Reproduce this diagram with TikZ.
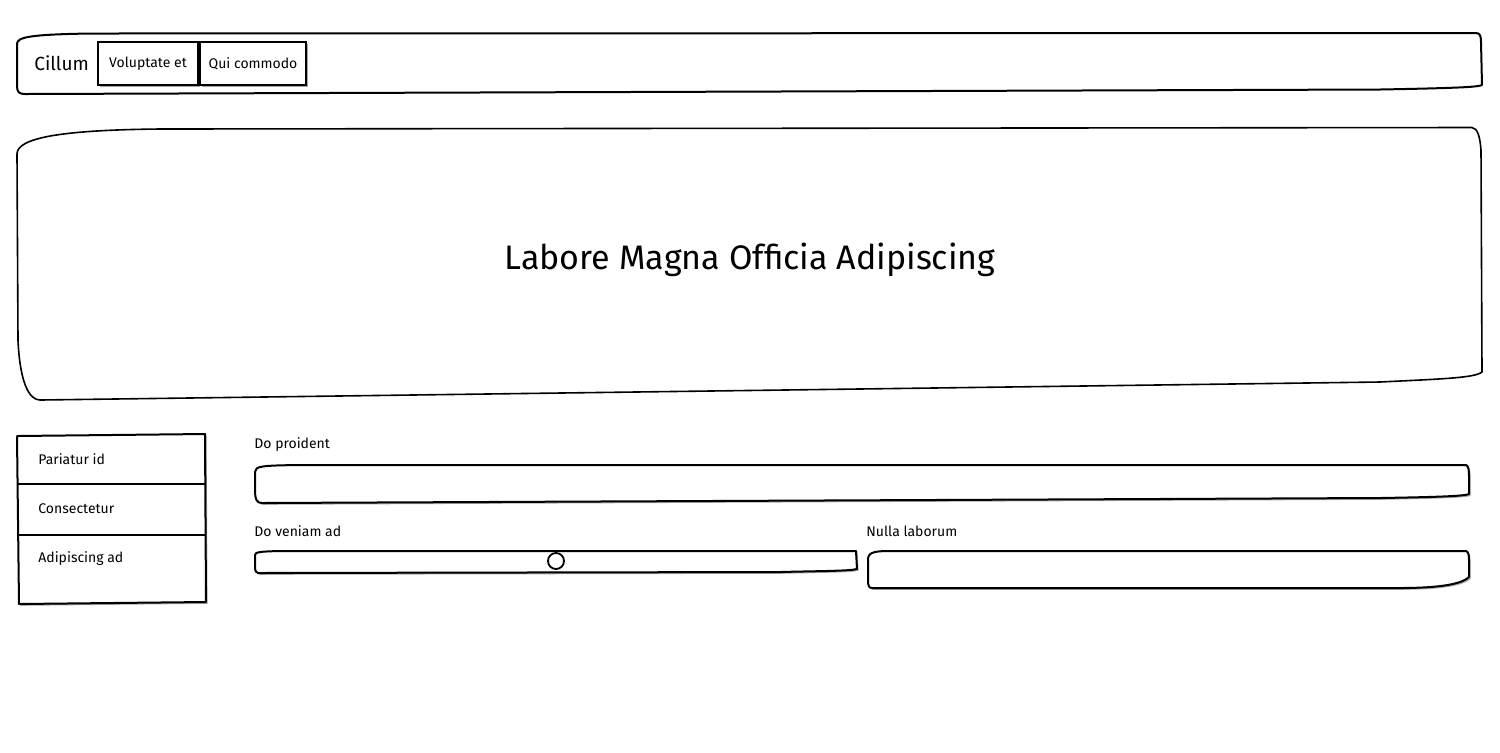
\documentclass[tikz,border=0pt]{standalone}
\usepackage{fontspec}
\setmainfont{Fira Sans}
\usetikzlibrary{shadows}
\begin{document}
\begin{tikzpicture}[x=0.5pt,y=-0.5pt,
  outline/.style={draw=black,line width=1pt,line join=round},
  heroline/.style={draw=black,line width=0.8pt,line join=round},
  shad/.style={drop shadow={shadow xshift=0.8pt,shadow yshift=-0.9pt,opacity=0.35,fill=black}},
  btn/.style={draw=black,line width=1.2pt,fill=white,shad,minimum height=21.5pt,inner sep=0pt,font=\fontsize{7}{8}\selectfont},
  lbl/.style={anchor=west,inner sep=0pt,font=\fontsize{7}{8}\selectfont},
  brand/.style={anchor=west,inner sep=0pt,font=\fontsize{9.5}{11}\selectfont},
  title/.style={inner sep=0pt,font=\fontsize{17}{20}\selectfont}]
\useasboundingbox (0,0) rectangle (1500,752);
\fill[white] (0,0) rectangle (1500,752);

% top bar
\draw[outline] (17,44) .. controls (17,37) and (30,34.5) .. (90,33.5) -- (1476,33) .. controls (1480,33) and (1481,36) .. (1481,42) -- (1482,85) .. controls (1478,87) and (1460,88) .. (1380,89.5) -- (25,94) .. controls (19,94) and (17,92) .. (17,86) -- cycle;
\node[brand] (brand) at (34,63.5) {Cillum};
\node[btn,minimum width=50pt] (b1) at (148,63.5) {Voluptate et};
\node[btn,minimum width=53pt] (b2) at (253,63.5) {Qui commodo};

% hero
\draw[heroline] (17,154) .. controls (17,138) and (60,130) .. (160,129) -- (1472,127.5) .. controls (1478,128) and (1480,138) .. (1481,150) -- (1482,372) .. controls (1475,378) and (1440,379) .. (1380,382) -- (40,400) .. controls (30,400) and (20,385) .. (18,340) -- cycle;
\node[title] (title) at (750,260) {Labore Magna Officia Adipiscing};

% sidebar
\draw[outline,fill=white,shad] (17,436) -- (205,434) -- (206,602) -- (19,604) -- cycle;
\draw[outline] (17,484) -- (206,484);
\draw[outline] (17,534.5) -- (206,534.5);
\node[lbl] (s1) at (38,459) {Pariatur id};
\node[lbl] (s2) at (38,509) {Consectetur};
\node[lbl] (s3) at (38,559) {Adipiscing ad};

% form
\node[lbl] (l1) at (254,445) {Do proident};
\draw[outline,fill=white,shad] (255,472) .. controls (255,466) and (262,465.5) .. (300,465) -- (1466,465) .. controls (1468.5,466) and (1469,470) .. (1469,476) -- (1469,494) .. controls (1465,496) and (1440,497) .. (1380,498) -- (262,503) .. controls (257,503) and (255,500) .. (255,490) -- cycle;

\node[lbl] (l2) at (254,531) {Do veniam ad};
\draw[outline,fill=white,shad] (255,555) .. controls (255,552) and (260,551.5) .. (280,551) -- (856,551) -- (857,569) .. controls (850,571) and (820,571) .. (780,572) -- (258,573) .. controls (256,573) and (255,571) .. (255,566) -- cycle;
\node[draw=black,line width=0.9pt,fill=white,circle,minimum size=8pt,inner sep=0pt] (knob) at (556,561) {};

\node[lbl] (l3) at (866,531) {Nulla laborum};
\draw[outline,fill=white,shad] (868,560) .. controls (868,553) and (872,551) .. (890,551) -- (1466,551) .. controls (1468.5,552) and (1469,555) .. (1469,560) -- (1469,577) .. controls (1462,584) and (1440,588) .. (1400,588) -- (872,588) .. controls (869,588) and (868,586) .. (868,580) -- cycle;
\end{tikzpicture}
\end{document}
